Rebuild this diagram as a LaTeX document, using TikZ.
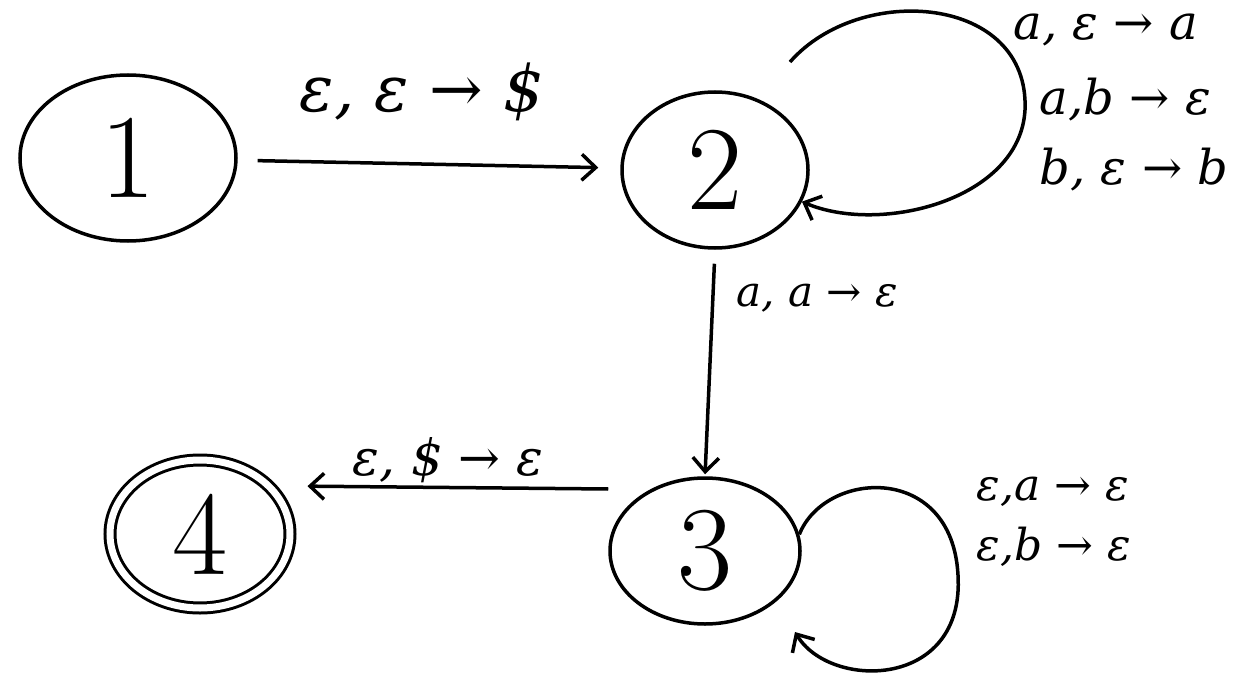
\documentclass[tikz,border=0pt]{standalone}
\usepackage{fontspec}
\newfontfamily\lblfont{DejaVu Serif}
\usetikzlibrary{shapes.geometric,arrows.meta}
\begin{document}
\begin{tikzpicture}[x=1pt,y=-1pt,
  every path/.style={line width=3.5pt},
  state/.style={draw, ellipse, inner sep=0pt, line width=3.5pt,
    font=\fontsize{120}{120}\selectfont},
  lbl/.style={inner sep=0pt, font=\lblfont\itshape\fontsize{#1}{#1}\selectfont},
  edge/.style={-{Straight Barb[length=14pt,width=26pt,line width=3.5pt]}, line width=3.5pt}]
\useasboundingbox (0,0) rectangle (1240,677);
% states
\node[state, minimum width=216pt, minimum height=166pt] (s1) at (128,158) {1};
\node[state, minimum width=186pt, minimum height=156pt] (s2) at (715,170) {2};
\node[state, minimum width=190pt, minimum height=146pt] (s3) at (705,551) {3};
\node[state, minimum width=180pt, minimum height=148pt, double, double distance=7pt, line width=3pt] (s4) at (200,534) {4};
% free ends of the loops
\coordinate (l2s) at (790,62);
\coordinate (l3e) at (795,632);
% edges
\draw[edge, shorten <=20pt, shorten >=22pt] (s1) -- (s2);
\node[lbl=64] (l12) at (422,92) {ε, ε → \$};
\draw[edge, shorten <=14pt, shorten >=2pt] (s2.south) -- (s3.north);
\node[lbl=42, anchor=west] (l23) at (735,298) {a, a → ε};
\draw[edge, shorten >=16pt] ([yshift=62pt]s3.west) -- ([yshift=48pt]s4.east);
\node[lbl=50] (l34) at (448,460) {ε, \$ → ε};
% self loops
\draw[edge] (l2s) .. controls (860,-18) and (1030,-5) .. (1025,110)
  .. controls (1020,200) and (880,235) .. (s2.-20);
\node[lbl=48, anchor=west] (l2a) at (1012,30) {a, ε → a};
\node[lbl=48, anchor=west] (l2b) at (1038,100) {a,b → ε};
\node[lbl=48, anchor=west] (l2c) at (1038,170) {b, ε → b};
\draw[edge] (s3.10) .. controls (825,470) and (952,462) .. (958,575)
  .. controls (965,690) and (830,690) .. (l3e);
\node[lbl=44, anchor=west] (l3a) at (975,492) {ε,a → ε};
\node[lbl=44, anchor=west] (l3b) at (975,547) {ε,b → ε};
\end{tikzpicture}
\end{document}
